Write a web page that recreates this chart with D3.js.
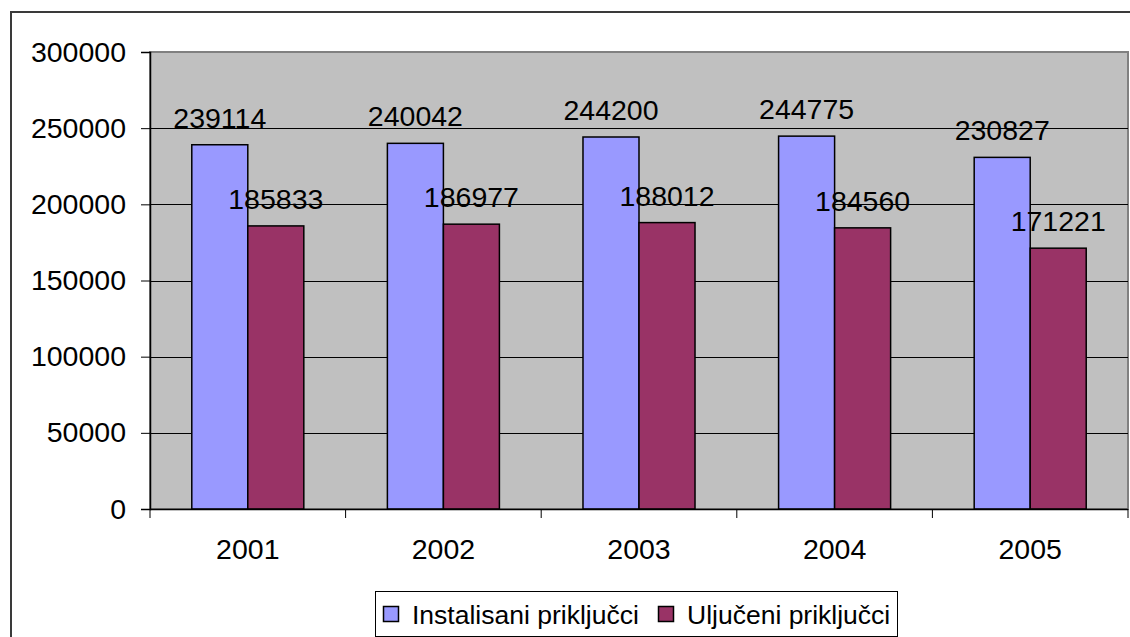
<!DOCTYPE html>
<html>
<head>
<meta charset="utf-8">
<script src="https://cdn.jsdelivr.net/npm/d3@7"></script>
<style>
  body { margin: 0; background: #fff; }
  svg { display: block; font-family: "Liberation Sans", Arial, sans-serif; }
</style>
</head>
<body>
<div id="chart"></div>
<script>
// Chart data
const years = ["2001", "2002", "2003", "2004", "2005"];
const seriesNames = ["Instalisani priključci", "Uljučeni priključci"];
const instalisani = [239114, 240042, 244200, 244775, 230827];
const ukljuceni = [185833, 186977, 188012, 184560, 171221];
const yTicks = [0, 50000, 100000, 150000, 200000, 250000, 300000];

const WIDTH = 1130;
const HEIGHT = 637;
const COLOURS = ["#9999ff", "#993366"];
const FONT_NUM = "28.5px";   // numbers look a bit wider than the legend text
const FONT_LEGEND = "26.5px";

// plot area
const PLOT = {left: 150, top: 52, right: 1128, bottom: 509};

let svg = d3.select("#chart")
            .append("svg")
            .attr("width", WIDTH)
            .attr("height", HEIGHT);

// outer chart border (right/bottom edges fall outside the window)
svg.append("rect")
    .attr("x", 11)
    .attr("y", 12)
    .attr("width", WIDTH + 20)
    .attr("height", HEIGHT + 20)
    .attr("fill", "#fff")
    .attr("stroke", "#3a3a3a")
    .attr("stroke-width", 2);

// Scales
let x0 = d3.scaleBand()
            .domain(years)
            .range([PLOT.left, PLOT.right])
            .padding(0);

let x1 = d3.scaleBand()
            .domain([0, 1])
            .range([0, x0.bandwidth()])
            .paddingInner(0)
            .paddingOuter(0.746);

let y = d3.scaleLinear()
            .domain([0, 300000])
            .range([PLOT.bottom, PLOT.top]);

// plot background
svg.append("rect")
    .attr("x", PLOT.left)
    .attr("y", PLOT.top)
    .attr("width", PLOT.right - PLOT.left)
    .attr("height", PLOT.bottom - PLOT.top)
    .attr("fill", "#c0c0c0")
    .attr("stroke", "#808080")
    .attr("stroke-width", 2);

// gridlines
svg.append("g")
    .selectAll("line")
    .data(yTicks.filter(d => d > 0 && d < 300000))
    .join("line")
    .attr("x1", PLOT.left)
    .attr("x2", PLOT.right)
    .attr("y1", d => Math.round(y(d)) + 0.5)
    .attr("y2", d => Math.round(y(d)) + 0.5)
    .attr("stroke", "#000")
    .attr("stroke-width", 1);

// bars
let data = years.map((yr, i) => ({year: yr, values: [instalisani[i], ukljuceni[i]]}));

let groups = svg.append("g")
    .selectAll("g")
    .data(data)
    .join("g")
    .attr("transform", d => `translate(${x0(d.year)},0)`);

groups.selectAll("rect")
    .data(d => d.values.map((v, s) => ({s, v})))
    .join("rect")
    .attr("x", d => x1(d.s))
    .attr("y", d => y(d.v))
    .attr("width", x1.bandwidth())
    .attr("height", d => y(0) - y(d.v))
    .attr("fill", d => COLOURS[d.s])
    .attr("stroke", "#000")
    .attr("stroke-width", 1.5);

// value labels
groups.selectAll("text")
    .data(d => d.values.map((v, s) => ({s, v})))
    .join("text")
    .attr("x", d => x1(d.s) + x1.bandwidth() / 2)
    .attr("y", d => y(d.v) - 17)
    .attr("text-anchor", "middle")
    .attr("font-size", FONT_NUM)
    .attr("fill", "#000")
    .text(d => d.v);

// Axes
let yAxis = d3.axisLeft(y)
                .tickValues(yTicks)
                .tickSize(9)
                .tickPadding(15)
                .tickFormat(d => d);

let yAxisG = svg.append("g")
    .attr("transform", `translate(${PLOT.left},0)`)
    .call(yAxis);

let xAxis = d3.axisBottom(x0)
                .tickSize(0)
                .tickPadding(30);

let xAxisG = svg.append("g")
    .attr("transform", `translate(0,${PLOT.bottom})`)
    .call(xAxis);

// category boundary ticks
svg.append("g")
    .selectAll("line")
    .data(years.concat(["end"]))
    .join("line")
    .attr("x1", (d, i) => i < years.length ? x0(d) : PLOT.right)
    .attr("x2", (d, i) => i < years.length ? x0(d) : PLOT.right)
    .attr("y1", PLOT.bottom)
    .attr("y2", PLOT.bottom + 9)
    .attr("stroke", "#000");

[yAxisG, xAxisG].forEach(g => {
    g.select(".domain").attr("stroke", "#000").attr("stroke-width", 1.5);
    g.selectAll(".tick line").attr("stroke", "#000");
    g.selectAll(".tick text")
        .attr("font-size", FONT_NUM)
        .attr("font-family", "Liberation Sans, Arial, sans-serif")
        .attr("fill", "#000");
});
xAxisG.select(".domain").attr("d", `M${PLOT.left},0.5H${PLOT.right}`);

// Legend
let legend = svg.append("g");
legend.append("rect")
    .attr("x", 375.5)
    .attr("y", 591.5)
    .attr("width", 522)
    .attr("height", 45)
    .attr("fill", "#fff")
    .attr("stroke", "#000");

const legendX = [383, 658];
seriesNames.forEach((name, i) => {
    legend.append("rect")
        .attr("x", legendX[i] + 0.5)
        .attr("y", 606.5)
        .attr("width", 15)
        .attr("height", 15)
        .attr("fill", COLOURS[i])
        .attr("stroke", "#000")
        .attr("stroke-width", 1.5);
    legend.append("text")
        .attr("x", legendX[i] + 29)
        .attr("y", 624)
        .attr("font-size", FONT_LEGEND)
        .attr("fill", "#000")
        .text(name);
});
</script>
</body>
</html>
